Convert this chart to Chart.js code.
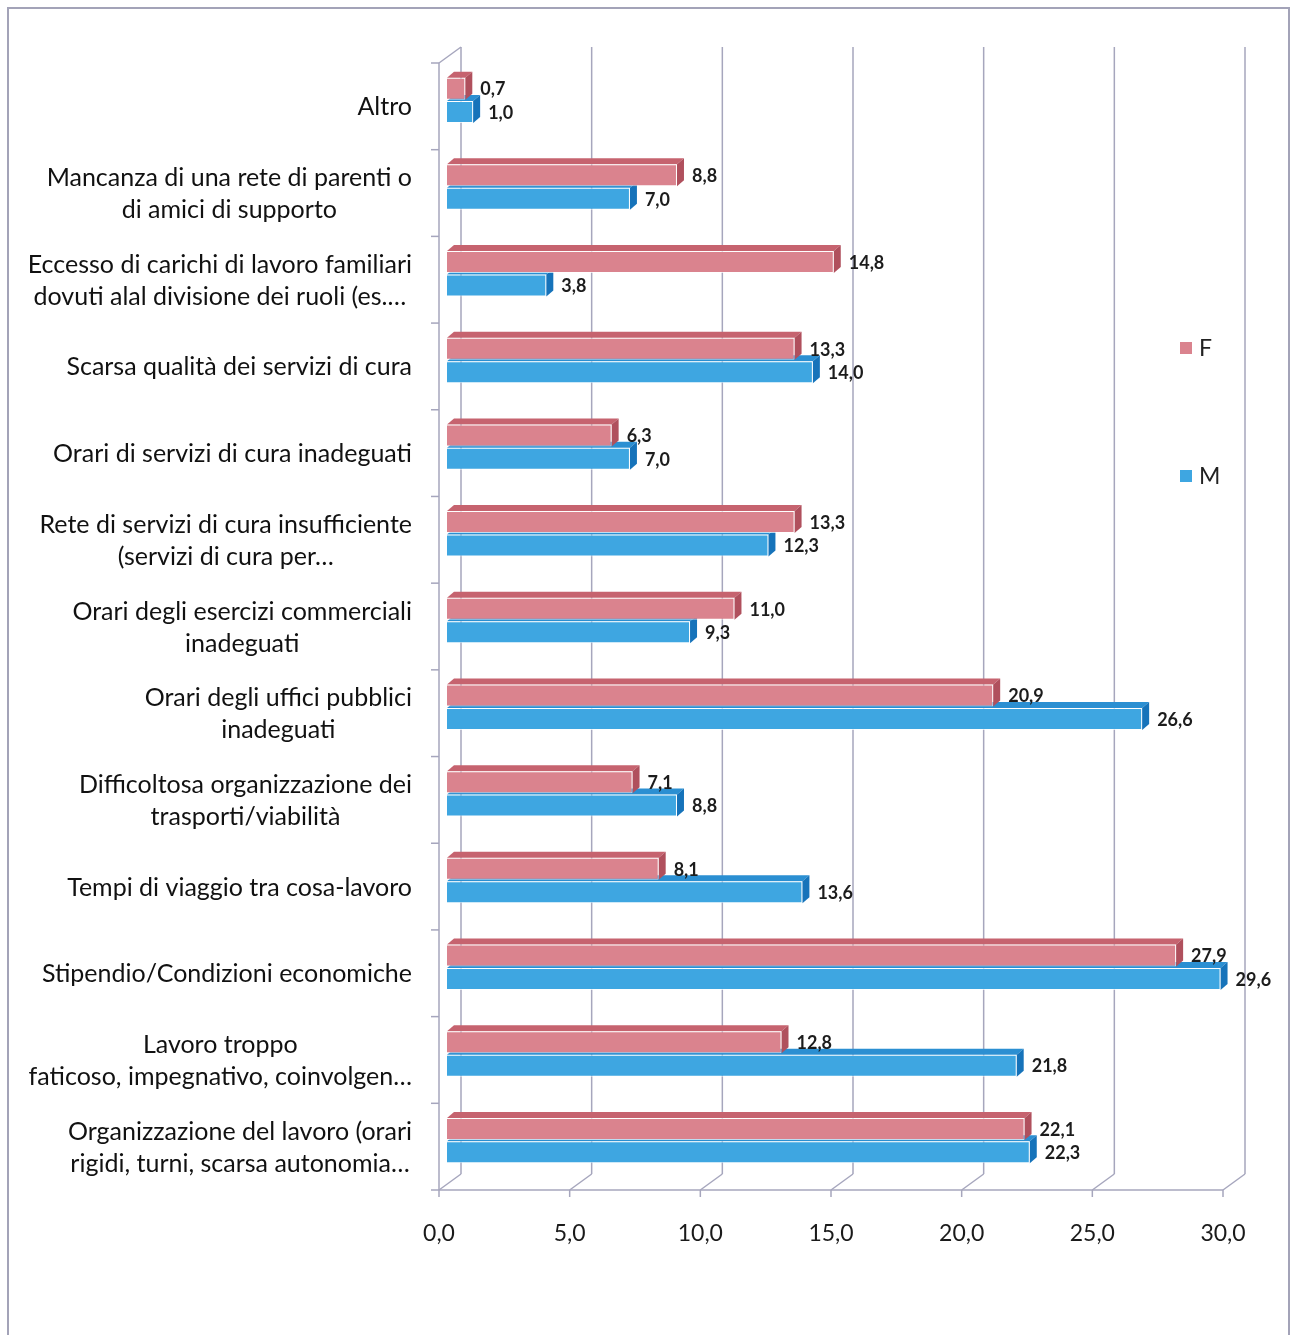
<!DOCTYPE html>
<html>
<head>
<meta charset="utf-8">
<script src="https://cdn.jsdelivr.net/npm/chart.js@4.4.1/dist/chart.umd.min.js"></script>
<style>
  html, body { margin: 0; padding: 0; background: #fff; }
  canvas { display: block; }
</style>
</head>
<body>
<canvas id="chart" width="1292" height="1335"></canvas>
<script>
// categories, top to bottom; each entry is the list of lines for that label
const categories = [
    ['Altro'],
    ['Mancanza di una rete di parenti o', 'di amici di supporto'],
    ['Eccesso di carichi di lavoro familiari', 'dovuti alal divisione dei ruoli (es.…'],
    ['Scarsa qualità dei servizi di cura'],
    ['Orari di servizi di cura inadeguati'],
    ['Rete di servizi di cura insufficiente', '(servizi di cura per…'],
    ['Orari degli esercizi commerciali', 'inadeguati'],
    ['Orari degli uffici pubblici', 'inadeguati'],
    ['Difficoltosa organizzazione dei', 'trasporti/viabilità'],
    ['Tempi di viaggio tra cosa-lavoro'],
    ['Stipendio/Condizioni economiche'],
    ['Lavoro troppo', 'faticoso, impegnativo, coinvolgen…'],
    ['Organizzazione del lavoro (orari', 'rigidi, turni, scarsa autonomia…']
];

const valuesF = [0.7, 8.8, 14.8, 13.3, 6.3, 13.3, 11.0, 20.9, 7.1, 8.1, 27.9, 12.8, 22.1];
const valuesM = [1.0, 7.0, 3.8, 14.0, 7.0, 12.3, 9.3, 26.6, 8.8, 13.6, 29.6, 21.8, 22.3];

const xTicks = [0, 5, 10, 15, 20, 25, 30];

// colours: front face, top face, side face
const colF = { front: '#da838e', top: '#c6636f', side: '#b0505d' };
const colM = { front: '#3ea6e1', top: '#2b8fd2', side: '#1673ba' };

const FONT = 'Lato, "Open Sans", sans-serif';

// the box is drawn in perspective: bars sit part way between the front and back planes
const toFront = { dx: -8, dy: 6 };
const toBack = { dx: 14, dy: -10 };
const barDepth = { dx: 7, dy: -6 };

const fmt = v => v.toFixed(1).replace('.', ',');

function line(ctx, x1, y1, x2, y2) {
    ctx.beginPath();
    ctx.moveTo(x1, y1);
    ctx.lineTo(x2, y2);
    ctx.stroke();
}

function poly(ctx, pts, color) {
    ctx.beginPath();
    ctx.moveTo(pts[0][0], pts[0][1]);
    pts.slice(1).forEach(p => ctx.lineTo(p[0], p[1]));
    ctx.closePath();
    ctx.fillStyle = color;
    ctx.fill();
}

const box3d = {
    id: 'box3d',
    beforeDraw(chart) {
        const ctx = chart.ctx;
        ctx.save();
        ctx.fillStyle = '#fff';
        ctx.fillRect(0, 0, chart.width, chart.height);
        ctx.strokeStyle = '#a3a3b8';
        ctx.lineWidth = 2;
        ctx.strokeRect(8, 8, 1281, 1360);
        ctx.restore();
    },
    beforeDatasetsDraw(chart) {
        const ctx = chart.ctx;
        const xs = chart.scales.x, ys = chart.scales.y, a = chart.chartArea;
        const band = ys.getPixelForValue(1) - ys.getPixelForValue(0);
        ctx.save();
        ctx.strokeStyle = '#a6a6bd';
        ctx.lineWidth = 1.5;

        // back wall grid lines
        xTicks.forEach(v => {
            const bx = xs.getPixelForValue(v) + toBack.dx;
            line(ctx, bx, a.top + toBack.dy, bx, a.bottom + toBack.dy);
        });

        // floor: front edge, depth lines and tick marks
        const fy = a.bottom + toFront.dy;
        const depthX = toBack.dx - toFront.dx, depthY = toBack.dy - toFront.dy;
        xTicks.forEach(v => {
            const fx = xs.getPixelForValue(v) + toFront.dx;
            line(ctx, fx, fy, fx + depthX, fy + depthY);
            line(ctx, fx, fy, fx, fy + 7);
        });
        const x0 = xs.getPixelForValue(xTicks[0]) + toFront.dx;
        const x1 = xs.getPixelForValue(xTicks[xTicks.length - 1]) + toFront.dx;
        line(ctx, x0, fy, x1, fy);

        // left wall: front edge, top edge and category ticks
        const ty = a.top + toFront.dy;
        line(ctx, x0, ty, x0, fy);
        line(ctx, x0, ty, x0 + depthX, ty + depthY);
        for (let i = 0; i <= categories.length; i++) {
            const y = ys.getPixelForValue(0) - band / 2 + i * band + toFront.dy;
            line(ctx, x0 - 8, y, x0, y);
        }

        // top and side faces of the bars, back series first
        [1, 0].forEach(d => {
            const col = d === 0 ? colF : colM;
            chart.getDatasetMeta(d).data.forEach(el => {
                const p = el.getProps(['x', 'y', 'base', 'height'], true);
                const top = p.y - p.height / 2, bot = p.y + p.height / 2;
                poly(ctx, [[p.base, top], [p.x, top], [p.x + barDepth.dx, top + barDepth.dy],
                           [p.base + barDepth.dx, top + barDepth.dy]], col.top);
                poly(ctx, [[p.x, top], [p.x + barDepth.dx, top + barDepth.dy],
                           [p.x + barDepth.dx, bot + barDepth.dy], [p.x, bot]], col.side);
            });
        });
        ctx.restore();
    },
    afterDatasetsDraw(chart) {
        const ctx = chart.ctx;
        const xs = chart.scales.x, ys = chart.scales.y, a = chart.chartArea;
        ctx.save();

        // value labels
        ctx.font = 'bold 18px ' + FONT;
        ctx.fillStyle = '#1c1c1c';
        ctx.textAlign = 'left';
        ctx.textBaseline = 'middle';
        chart.data.datasets.forEach((ds, d) => {
            chart.getDatasetMeta(d).data.forEach((el, i) => {
                const p = el.getProps(['x', 'y'], true);
                ctx.fillText(fmt(ds.data[i]), p.x + 15, p.y + 1);
            });
        });

        // category labels: block right-aligned, lines centred in the block
        ctx.font = '25px ' + FONT;
        ctx.fillStyle = '#111';
        ctx.textAlign = 'center';
        const right = a.left + toFront.dx - 27;
        categories.forEach((lines, i) => {
            const w = Math.max(...lines.map(s => ctx.measureText(s).width));
            const cx = right - w / 2;
            const cy = ys.getPixelForValue(i) + toFront.dy + 1;
            const lh = 32;
            lines.forEach((s, k) => {
                ctx.fillText(s, cx, cy - (lines.length - 1) * lh / 2 + k * lh);
            });
        });

        // x tick labels on the front floor edge
        ctx.font = '23px ' + FONT;
        ctx.fillStyle = '#1a1a1a';
        xTicks.forEach(v => {
            ctx.fillText(fmt(v), xs.getPixelForValue(v) + toFront.dx, a.bottom + 50);
        });

        // legend
        ctx.textAlign = 'left';
        ctx.font = '23px ' + FONT;
        const legendY = [348, 476];
        chart.data.datasets.forEach((ds, d) => {
            ctx.fillStyle = ds.backgroundColor;
            ctx.fillRect(1180, legendY[d] - 6, 12, 12);
            ctx.fillStyle = '#222';
            ctx.fillText(ds.label, 1199, legendY[d] + 1);
        });
        ctx.restore();
    }
};

new Chart(document.getElementById('chart').getContext('2d'), {
    type: 'bar',
    data: {
        labels: categories,
        datasets: [
            {
                label: 'F',
                data: valuesF,
                backgroundColor: colF.front,
                borderColor: 'rgba(255,255,255,0.7)',
                borderWidth: 1,
                categoryPercentage: 0.54,
                barPercentage: 0.94
            },
            {
                label: 'M',
                data: valuesM,
                backgroundColor: colM.front,
                borderColor: 'rgba(255,255,255,0.7)',
                borderWidth: 1,
                categoryPercentage: 0.54,
                barPercentage: 0.94
            }
        ]
    },
    options: {
        indexAxis: 'y',
        responsive: false,
        animation: false,
        layout: { padding: { left: 447, right: 61, top: 57, bottom: 151 } },
        plugins: {
            legend: { display: false },
            tooltip: { enabled: false }
        },
        scales: {
            x: { type: 'linear', min: 0, max: 30, display: false },
            y: { type: 'category', display: false }
        }
    },
    plugins: [box3d]
});
</script>
</body>
</html>
